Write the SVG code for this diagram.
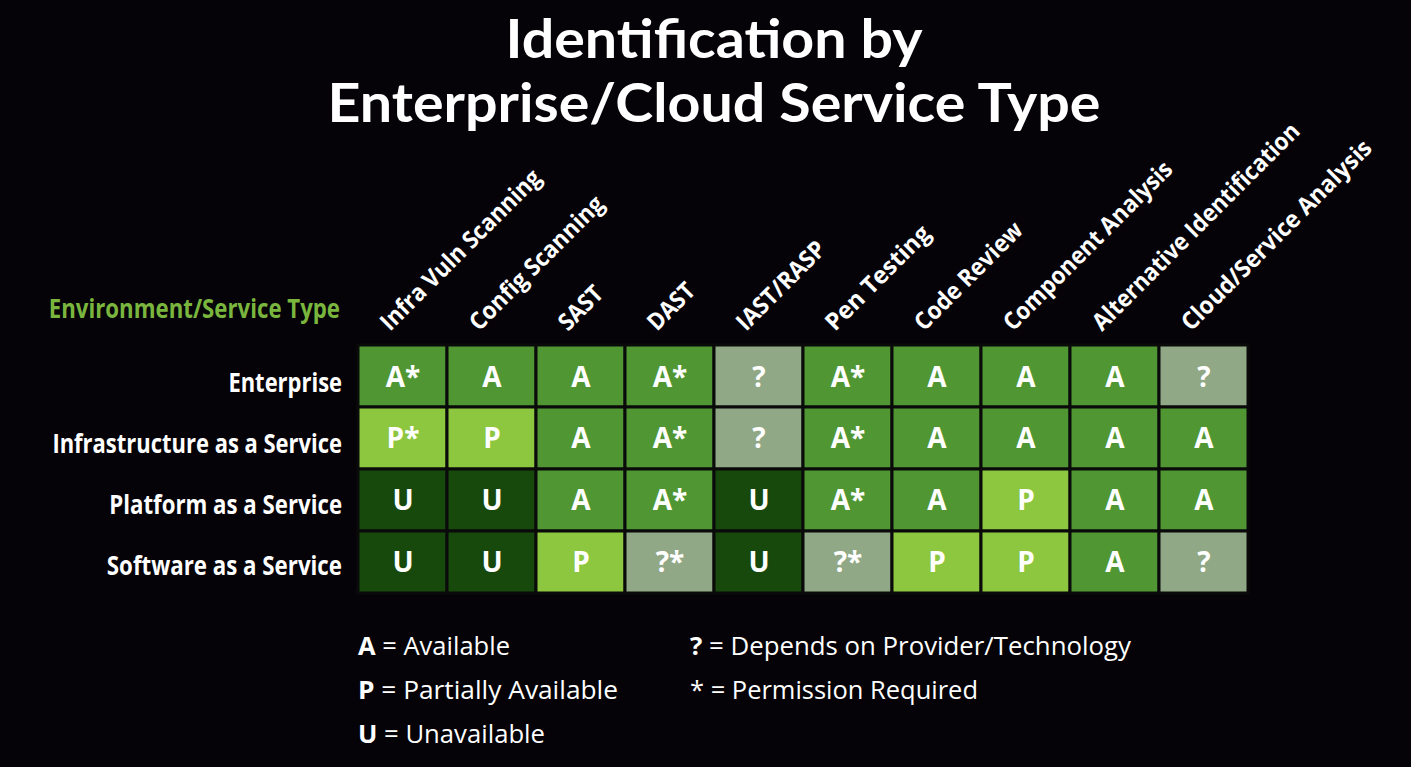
<svg xmlns="http://www.w3.org/2000/svg" width="1411" height="767" viewBox="0 0 1411 767">
<style>
text{font-family:"Open Sans","Noto Sans","Liberation Sans",sans-serif;fill:#fff}
.title{font-family:Lato,"Open Sans",sans-serif;font-size:53px;font-weight:700;text-anchor:middle}
.hdr{font-size:24px;font-weight:700}
.row{font-size:26px;font-weight:700;text-anchor:end}
.cell{font-size:28px;font-weight:700;text-anchor:middle}
.leg{font-size:25px;font-weight:400}
.A{fill:#509734}.P{fill:#8dc63f}.U{fill:#17480c}.Q{fill:#91a886}
rect.c{stroke:#0a0a0a;stroke-width:3}
</style>
<rect width="1411" height="767" fill="#050308"/>
<g id="title">
<text class="title" x="714" y="58" textLength="417" lengthAdjust="spacingAndGlyphs">Identification by</text>
<text class="title" x="714" y="122" textLength="773" lengthAdjust="spacingAndGlyphs">Enterprise/Cloud Service Type</text>
</g>
<g id="headers">
<text class="hdr" transform="translate(390,332) rotate(-45)" textLength="216" lengthAdjust="spacingAndGlyphs">Infra Vuln Scanning</text>
<text class="hdr" transform="translate(479,332) rotate(-45)" textLength="179" lengthAdjust="spacingAndGlyphs">Config Scanning</text>
<text class="hdr" transform="translate(568,332) rotate(-45)" textLength="52" lengthAdjust="spacingAndGlyphs">SAST</text>
<text class="hdr" transform="translate(657,332) rotate(-45)" textLength="56" lengthAdjust="spacingAndGlyphs">DAST</text>
<text class="hdr" transform="translate(746,332) rotate(-45)" textLength="115" lengthAdjust="spacingAndGlyphs">IAST/RASP</text>
<text class="hdr" transform="translate(835,332) rotate(-45)" textLength="137" lengthAdjust="spacingAndGlyphs">Pen Testing</text>
<text class="hdr" transform="translate(924,332) rotate(-45)" textLength="142" lengthAdjust="spacingAndGlyphs">Code Review</text>
<text class="hdr" transform="translate(1013,332) rotate(-45)" textLength="228" lengthAdjust="spacingAndGlyphs">Component Analysis</text>
<text class="hdr" transform="translate(1102,332) rotate(-45)" textLength="282" lengthAdjust="spacingAndGlyphs">Alternative Identification</text>
<text class="hdr" transform="translate(1191,332) rotate(-45)" textLength="258" lengthAdjust="spacingAndGlyphs">Cloud/Service Analysis</text>
</g>
<g id="rowlabels">
<text class="row" transform="translate(340,318) scale(0.8,1)" style="fill:#7ab63e" textLength="364" lengthAdjust="spacingAndGlyphs">Environment/Service Type</text>
<text class="row" transform="translate(342,392) scale(0.8,1)" textLength="142" lengthAdjust="spacingAndGlyphs">Enterprise</text>
<text class="row" transform="translate(342,453) scale(0.8,1)" textLength="362" lengthAdjust="spacingAndGlyphs">Infrastructure as a Service</text>
<text class="row" transform="translate(342,514) scale(0.8,1)" textLength="291" lengthAdjust="spacingAndGlyphs">Platform as a Service</text>
<text class="row" transform="translate(342,575) scale(0.8,1)" textLength="294" lengthAdjust="spacingAndGlyphs">Software as a Service</text>
</g>
<g id="grid">
<rect x="357" y="344" width="892" height="250" fill="#222"/>
<rect class="c A" x="358" y="345" width="89" height="62"/><rect class="c A" x="447" y="345" width="89" height="62"/><rect class="c A" x="536" y="345" width="89" height="62"/><rect class="c A" x="625" y="345" width="89" height="62"/><rect class="c Q" x="714" y="345" width="89" height="62"/><rect class="c A" x="803" y="345" width="89" height="62"/><rect class="c A" x="892" y="345" width="89" height="62"/><rect class="c A" x="981" y="345" width="89" height="62"/><rect class="c A" x="1070" y="345" width="89" height="62"/><rect class="c Q" x="1159" y="345" width="89" height="62"/>
<rect class="c P" x="358" y="407" width="89" height="62"/><rect class="c P" x="447" y="407" width="89" height="62"/><rect class="c A" x="536" y="407" width="89" height="62"/><rect class="c A" x="625" y="407" width="89" height="62"/><rect class="c Q" x="714" y="407" width="89" height="62"/><rect class="c A" x="803" y="407" width="89" height="62"/><rect class="c A" x="892" y="407" width="89" height="62"/><rect class="c A" x="981" y="407" width="89" height="62"/><rect class="c A" x="1070" y="407" width="89" height="62"/><rect class="c A" x="1159" y="407" width="89" height="62"/>
<rect class="c U" x="358" y="469" width="89" height="62"/><rect class="c U" x="447" y="469" width="89" height="62"/><rect class="c A" x="536" y="469" width="89" height="62"/><rect class="c A" x="625" y="469" width="89" height="62"/><rect class="c U" x="714" y="469" width="89" height="62"/><rect class="c A" x="803" y="469" width="89" height="62"/><rect class="c A" x="892" y="469" width="89" height="62"/><rect class="c P" x="981" y="469" width="89" height="62"/><rect class="c A" x="1070" y="469" width="89" height="62"/><rect class="c A" x="1159" y="469" width="89" height="62"/>
<rect class="c U" x="358" y="531" width="89" height="62"/><rect class="c U" x="447" y="531" width="89" height="62"/><rect class="c P" x="536" y="531" width="89" height="62"/><rect class="c Q" x="625" y="531" width="89" height="62"/><rect class="c U" x="714" y="531" width="89" height="62"/><rect class="c Q" x="803" y="531" width="89" height="62"/><rect class="c P" x="892" y="531" width="89" height="62"/><rect class="c P" x="981" y="531" width="89" height="62"/><rect class="c A" x="1070" y="531" width="89" height="62"/><rect class="c Q" x="1159" y="531" width="89" height="62"/>
</g>
<g id="cells">
<text class="cell" x="403" y="387">A*</text><text class="cell" x="492" y="387">A</text><text class="cell" x="581" y="387">A</text><text class="cell" x="670" y="387">A*</text><text class="cell" x="759" y="387">?</text><text class="cell" x="848" y="387">A*</text><text class="cell" x="937" y="387">A</text><text class="cell" x="1026" y="387">A</text><text class="cell" x="1115" y="387">A</text><text class="cell" x="1204" y="387">?</text>
<text class="cell" x="403" y="448">P*</text><text class="cell" x="492" y="448">P</text><text class="cell" x="581" y="448">A</text><text class="cell" x="670" y="448">A*</text><text class="cell" x="759" y="448">?</text><text class="cell" x="848" y="448">A*</text><text class="cell" x="937" y="448">A</text><text class="cell" x="1026" y="448">A</text><text class="cell" x="1115" y="448">A</text><text class="cell" x="1204" y="448">A</text>
<text class="cell" x="403" y="510">U</text><text class="cell" x="492" y="510">U</text><text class="cell" x="581" y="510">A</text><text class="cell" x="670" y="510">A*</text><text class="cell" x="759" y="510">U</text><text class="cell" x="848" y="510">A*</text><text class="cell" x="937" y="510">A</text><text class="cell" x="1026" y="510">P</text><text class="cell" x="1115" y="510">A</text><text class="cell" x="1204" y="510">A</text>
<text class="cell" x="403" y="572">U</text><text class="cell" x="492" y="572">U</text><text class="cell" x="581" y="572">P</text><text class="cell" x="670" y="572">?*</text><text class="cell" x="759" y="572">U</text><text class="cell" x="848" y="572">?*</text><text class="cell" x="937" y="572">P</text><text class="cell" x="1026" y="572">P</text><text class="cell" x="1115" y="572">A</text><text class="cell" x="1204" y="572">?</text>
</g>
<g id="legend">
<text class="leg" x="358" y="655" textLength="152" lengthAdjust="spacingAndGlyphs"><tspan font-weight="700">A</tspan> = Available</text>
<text class="leg" x="358" y="699" textLength="260" lengthAdjust="spacingAndGlyphs"><tspan font-weight="700">P</tspan> = Partially Available</text>
<text class="leg" x="358" y="743" textLength="187" lengthAdjust="spacingAndGlyphs"><tspan font-weight="700">U</tspan> = Unavailable</text>
<text class="leg" x="690" y="655" textLength="441" lengthAdjust="spacingAndGlyphs"><tspan font-weight="700">?</tspan> = Depends on Provider/Technology</text>
<text class="leg" x="690" y="699" textLength="288" lengthAdjust="spacingAndGlyphs">* = Permission Required</text>
</g>
</svg>
